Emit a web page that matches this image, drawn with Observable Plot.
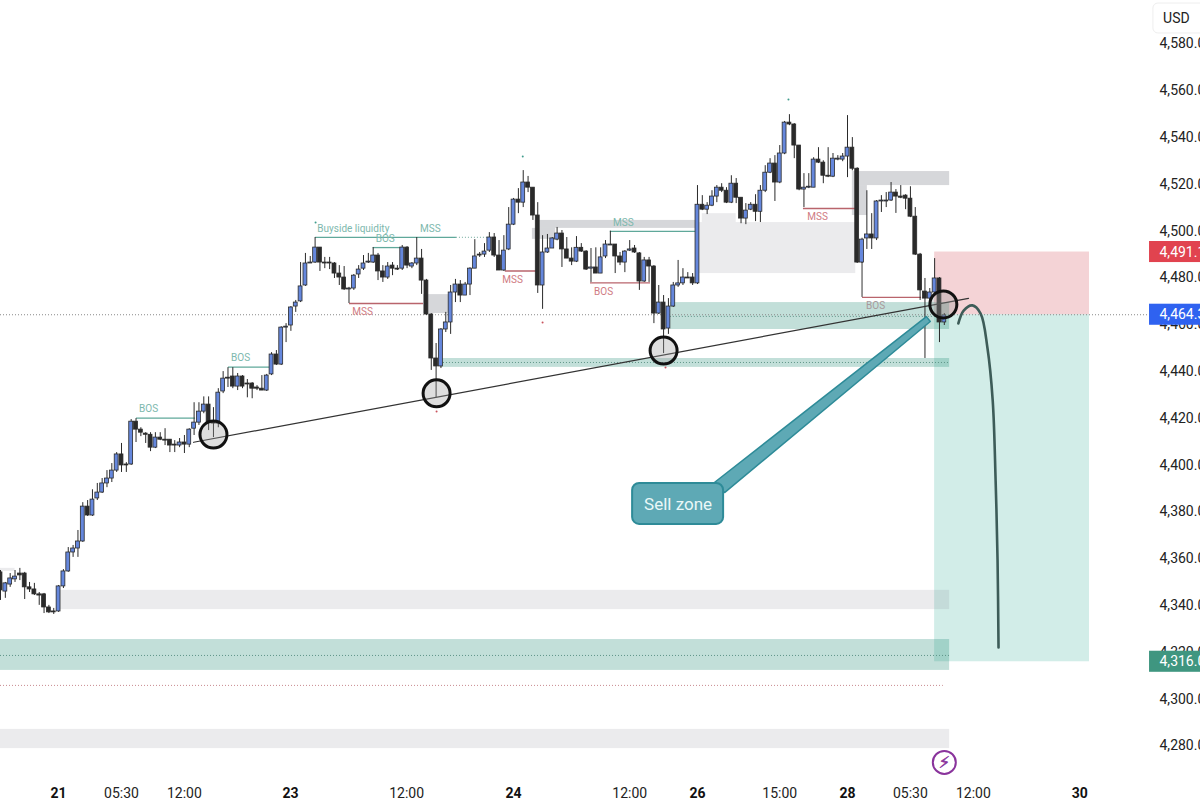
<!DOCTYPE html>
<html><head><meta charset="utf-8">
<script src="https://cdn.jsdelivr.net/npm/d3@7"></script>
<script src="https://cdn.jsdelivr.net/npm/@observablehq/plot@0.6"></script>
<style>html,body{margin:0;padding:0;background:#fff;overflow:hidden}svg{display:block}</style>
</head><body><div id="chart"></div>
<script>
const opens=[4354.2,4346.0,4349.0,4351.2,4353.7,4353.7,4347.8,4346.9,4344.8,4344.8,
4339.2,4337.5,4337.5,4348.2,4354.6,4362.7,4364.4,4367.4,4382.3,4378.5,
4385.8,4388.3,4392.2,4394.3,4397.7,4404.6,4400.3,4400.3,4418.6,4415.2,
4413.5,4413.0,4407.5,4411.8,4410.9,4410.9,4408.8,4408.4,4409.7,4408.8,
4415.6,4418.2,4422.9,4425.9,4418.6,4417.8,4431.5,4437.4,4437.9,4433.6,
4437.9,4434.9,4434.9,4433.2,4432.7,4431.9,4438.8,4447.3,4443.0,4458.8,
4459.7,4467.8,4470.0,4476.8,4486.2,4486.6,4493.0,4486.6,4486.6,4486.2,
4481.9,4480.2,4475.1,4475.5,4481.5,4484.0,4486.6,4486.6,4489.6,4482.8,
4480.2,4485.3,4484.0,4484.0,4493.0,4484.9,4486.2,4488.3,4478.9,4464.4,
4445.6,4442.2,4458.0,4461.0,4473.8,4477.2,4472.5,4477.2,4484.0,4490.0,
4490.0,4491.7,4497.3,4489.6,4483.2,4492.2,4502.8,4513.5,4512.2,4520.8,
4518.6,4506.7,4476.8,4490.9,4492.6,4496.4,4499.0,4492.2,4488.3,4487.0,
4492.9,4491.3,4484.0,4484.5,4481.9,4489.2,4493.9,4494.3,4489.2,4486.6,
4491.7,4492.6,4490.5,4478.5,4487.5,4484.9,4464.8,4469.5,4458.4,4467.8,
4476.8,4477.7,4480.2,4480.2,4477.7,4511.3,4509.2,4510.9,4514.8,4518.6,
4517.3,4512.2,4520.3,4514.3,4505.4,4509.2,4511.3,4508.3,4517.3,4525.0,
4528.9,4520.8,4533.2,4546.4,4545.6,4536.6,4517.8,4518.6,4518.6,4530.6,
4529.3,4523.7,4523.3,4530.6,4530.6,4531.9,4535.7,4526.7,4486.6,4496.9,
4498.6,4496.9,4512.7,4512.7,4513.1,4516.5,4514.8,4515.2,4513.9,4506.2,
4490.0,4474.2,4471.2,4473.8,4479.8,4461.0];
const closes=[4346.5,4349.5,4351.6,4352.4,4352.9,4347.8,4346.9,4344.8,4344.3,4339.2,
4337.1,4337.1,4348.2,4354.6,4362.7,4364.4,4367.4,4382.3,4378.5,4385.3,
4388.3,4392.2,4394.3,4397.7,4404.6,4399.9,4399.9,4418.6,4415.2,4413.9,
4413.0,4407.5,4411.8,4410.9,4410.5,4408.4,4408.4,4409.7,4408.8,4415.2,
4418.2,4422.9,4425.9,4418.2,4417.8,4431.0,4437.0,4437.0,4433.6,4437.9,
4433.6,4434.5,4432.7,4432.7,4431.9,4438.3,4447.3,4443.0,4458.8,4459.2,
4467.4,4469.5,4476.4,4486.2,4486.6,4493.0,4486.6,4486.2,4486.2,4481.9,
4480.2,4475.1,4475.5,4481.0,4483.6,4486.2,4487.0,4489.6,4482.8,4480.2,
4484.9,4484.0,4483.6,4493.0,4485.3,4486.2,4488.3,4478.9,4464.4,4445.6,
4442.2,4458.0,4461.0,4473.8,4477.2,4472.5,4477.2,4484.0,4489.2,4489.6,
4491.3,4497.3,4489.6,4483.2,4491.7,4502.8,4513.5,4512.2,4520.8,4518.6,
4506.7,4476.8,4490.9,4492.6,4496.9,4499.0,4492.2,4488.3,4487.0,4492.9,
4491.3,4483.6,4484.5,4481.9,4488.8,4494.3,4494.3,4489.2,4486.6,4491.3,
4492.2,4490.9,4478.5,4487.5,4484.9,4464.8,4469.5,4458.0,4467.8,4476.8,
4477.7,4480.2,4479.8,4477.7,4511.3,4509.2,4510.9,4514.8,4518.6,4517.3,
4512.2,4520.3,4514.3,4505.4,4508.8,4511.3,4508.3,4517.3,4525.0,4528.9,
4520.8,4533.2,4546.4,4545.6,4536.6,4517.8,4518.6,4519.0,4530.6,4529.3,
4523.7,4523.3,4531.0,4531.0,4531.9,4535.7,4526.7,4486.6,4496.4,4498.6,
4496.9,4512.7,4513.1,4513.1,4516.5,4514.8,4514.3,4513.9,4506.2,4490.0,
4474.7,4471.2,4473.8,4479.8,4461.0,4464.0];
const highs=[4355.0,4349.9,4353.7,4355.0,4355.9,4354.2,4349.9,4349.5,4345.6,4345.2,
4340.1,4338.8,4348.6,4355.4,4364.8,4365.7,4372.1,4384.0,4384.9,4389.5,
4392.2,4394.3,4397.7,4400.7,4405.4,4409.3,4401.1,4419.5,4419.9,4416.0,
4413.9,4413.9,4413.9,4413.9,4415.6,4410.9,4410.5,4411.4,4412.7,4415.6,
4426.7,4426.7,4429.2,4429.2,4424.6,4432.7,4440.0,4441.7,4441.7,4439.2,
4438.3,4436.6,4435.3,4434.0,4438.3,4438.8,4448.1,4449.0,4459.2,4460.5,
4467.8,4470.4,4486.6,4490.5,4489.2,4497.3,4493.0,4488.8,4488.8,4486.6,
4485.3,4484.9,4476.0,4481.5,4485.3,4489.6,4490.5,4493.0,4490.5,4485.3,
4486.6,4486.6,4485.3,4493.9,4493.4,4486.6,4497.3,4492.2,4479.4,4464.8,
4452.0,4458.4,4465.3,4476.8,4479.4,4478.9,4478.1,4484.4,4496.4,4490.9,
4494.7,4499.4,4499.0,4496.0,4498.1,4510.1,4514.0,4518.2,4525.9,4523.4,
4518.6,4512.2,4498.1,4498.6,4497.3,4501.6,4500.3,4497.3,4492.9,4497.7,
4494.7,4491.7,4492.6,4492.9,4492.9,4496.0,4500.0,4494.3,4490.9,4491.7,
4496.0,4493.9,4490.9,4488.8,4488.8,4485.3,4476.8,4472.5,4471.2,4478.1,
4487.5,4484.0,4482.3,4481.9,4519.5,4515.2,4512.2,4517.3,4519.5,4520.3,
4518.6,4523.7,4522.5,4514.3,4511.8,4512.2,4515.6,4519.5,4528.0,4531.0,
4532.3,4536.6,4546.9,4549.8,4546.0,4536.6,4524.6,4524.6,4531.4,4535.7,
4530.1,4535.7,4533.2,4532.3,4533.2,4549.4,4540.0,4527.1,4497.0,4517.3,
4507.5,4513.1,4515.2,4516.5,4520.8,4517.8,4519.5,4515.6,4519.0,4510.1,
4490.5,4479.8,4475.5,4488.3,4480.2,4464.8];
const lows=[4342.2,4343.1,4347.8,4349.9,4350.7,4342.6,4345.6,4344.3,4340.1,4336.6,
4336.6,4336.2,4337.1,4347.3,4354.2,4360.6,4360.6,4367.0,4378.1,4378.1,
4384.9,4387.9,4390.4,4392.6,4396.9,4396.9,4396.9,4399.9,4409.7,4412.2,
4409.3,4405.8,4407.1,4410.5,4408.4,4405.4,4405.4,4407.5,4405.0,4407.5,
4412.7,4417.0,4422.0,4414.8,4411.8,4416.0,4430.6,4433.2,4432.7,4431.9,
4432.7,4428.8,4428.4,4431.9,4431.9,4431.5,4438.3,4442.6,4442.6,4452.4,
4457.2,4465.3,4469.5,4476.4,4486.2,4486.2,4482.8,4484.0,4483.6,4479.8,
4476.8,4474.7,4469.1,4474.7,4479.8,4483.2,4486.2,4486.2,4478.9,4478.1,
4479.4,4481.0,4483.2,4483.2,4484.0,4484.0,4485.3,4473.0,4464.0,4440.5,
4428.9,4441.3,4456.7,4455.9,4469.5,4469.5,4472.5,4472.5,4484.0,4488.8,
4488.8,4490.9,4488.8,4483.2,4482.8,4491.7,4502.4,4507.5,4510.1,4516.5,
4504.6,4473.4,4466.6,4490.5,4492.6,4495.9,4484.5,4488.3,4485.3,4486.6,
4490.9,4483.2,4478.1,4481.9,4481.9,4488.3,4493.9,4481.9,4485.3,4482.3,
4491.3,4490.5,4474.7,4478.1,4478.1,4460.5,4464.4,4447.7,4455.9,4467.4,
4476.0,4476.8,4479.8,4476.8,4477.2,4508.8,4507.1,4510.5,4512.2,4516.5,
4511.8,4511.8,4511.8,4503.2,4502.8,4508.8,4504.1,4503.7,4516.5,4524.6,
4512.7,4520.3,4532.7,4545.1,4531.0,4517.3,4510.1,4518.2,4518.6,4528.9,
4520.3,4522.9,4522.9,4530.1,4529.7,4522.9,4525.8,4486.2,4486.2,4492.2,
4492.2,4496.0,4508.0,4510.1,4512.7,4507.6,4513.9,4509.2,4505.8,4489.6,
4470.4,4445.6,4470.4,4473.4,4452.4,4459.7];

const priceTicks=[4580,4560,4540,4520,4500,4480,4460,4440,4420,4400,4380,4360,4340,4320,4300,4280];
const priceTags=[{p:4491.1,t:"4,491.1"},{p:4464.3,t:"4,464.3"},{p:4316.0,t:"4,316.0"}];
const dayTicks=[{i:12,t:"21"},{i:59.9,t:"23"},{i:106,t:"24"},{i:144,t:"26"},{i:175,t:"28"},{i:223,t:"30"}];
const timeTicks=[{i:25,t:"05:30"},{i:38,t:"12:00"},{i:83.9,t:"12:00"},{i:130,t:"12:00"},{i:161,t:"15:00"},{i:188,t:"05:30"},{i:201,t:"12:00"}];

const lightZones=[[12.4,196.1,4338.3,4346.5],[0,196.1,4278.9,4287.1],[144.2,176.7,4481.9,4503.7],[145,152,4503.7,4507.5],[0,3,4354.6,4355.9]];
const darkZones=[[176,196.1,4519.5,4525.5],[176,179.1,4506.7,4519.5],[111,144,4501.2,4504.6],[109.9,114.7,4496.5,4501.2],[87.4,92.6,4464.8,4472.9]];
const tealZones=[[0,196.1,4312.3,4325.5],[138.4,196.1,4458,4469.5],[90.9,196.1,4441.8,4445.6]];
const tealLevels=[[28.1,40.3,4420.1],[47.1,55.6,4441.9],[65.1,94.2,4497.4],[77,83.3,4493],[126,143.8,4499.9]];
const redLevels=[[72.1,87.4,4469.1],[104.3,111,4483],[121.9,134.3,4477.9],[165.9,176.7,4509.7],[178.1,190.3,4471.7]];
const dottedLevels=[[90.9,196.1,4443.9],[0,196.1,4318.7],[138.4,196.1,4463.6]];
const tealNotes=[{i:30.6,p:4424.2,t:"BOS"},{i:49.6,p:4446,t:"BOS"},{i:72.9,p:4501.2,t:"Buyside liquidity"},{i:88.8,p:4501.2,t:"MSS"},{i:79.5,p:4496.9,t:"BOS"},{i:128.7,p:4503.7,t:"MSS"}];
const redNotes=[{i:74.8,p:4465.7,t:"MSS"},{i:105.8,p:4479.4,t:"MSS"},{i:124.6,p:4474.2,t:"BOS"},{i:168.8,p:4506.3,t:"MSS"}];
const greyNotes=[{i:180.8,p:4468.2,t:"BOS"}];
const tealDots=[[65.1,4503.7],[107.9,4531.9],[162.8,4556.3]];
const redDots=[[112,4461],[90.1,4422.9],[137.4,4441.8]];
const trend=[[39.9,4409.8],[200,4471.3]];
const swingCircles=[[44,4413.1],[90.1,4430.7],[137,4449.0],[194.8,4468.7]];
const calloutTail=[[147.5,4392.6],[191.3,4463.5],[192.1,4461.4],[149.6,4388.3]];
const projection=[[197.9,4460.6],[199,4466.1],[200.8,4468.3],[202.5,4464.8],[203.9,4450.3],[205,4427.6],[205.6,4393.4],[206,4359.3],[206.2,4322.1]];

const candles=opens.map((o,i)=>({i,o,c:closes[i],h:highs[i],l:lows[i]}));
const up=candles.filter(d=>d.c>=d.o), down=candles.filter(d=>d.c<d.o);
const zoneRect=(rows,opts)=>Plot.rect(rows,{x1:d=>d[0],x2:d=>d[1],y1:d=>d[2],y2:d=>d[3],...opts});
const levelRule=(rows,opts)=>Plot.ruleY(rows,{x1:d=>d[0],x2:d=>d[1],y:d=>d[2],...opts});
const note=(rows,fill)=>Plot.text(rows,{x:"i",y:"p",text:"t",fill,fontSize:10});
const body=(rows,fill)=>Plot.rect(rows,{x1:d=>d.i-.4,x2:d=>d.i+.4,y1:"o",y2:"c",fill,stroke:"#2a2a2a",strokeWidth:.8});
const RIGHT=247.93;

const chart=Plot.plot({
 width:1200,height:803,margin:0,style:{fontFamily:"Roboto",background:"#fff"},
 x:{axis:null,domain:[0,RIGHT],range:[0,1200]},
 y:{axis:null,domain:[4255.43,4598.59],range:[803,0]},
 marks:[
  zoneRect([[193,225,4464.3,4491.1]],{fill:"#c82332",fillOpacity:.2}),
  zoneRect([[193,225,4316,4464.3]],{fill:"#089981",fillOpacity:.18}),
  zoneRect(lightZones,{fill:"#787b86",fillOpacity:.15}),
  zoneRect(darkZones,{fill:"#787b86",fillOpacity:.3}),
  zoneRect(tealZones,{fill:"#1f8a74",fillOpacity:.27}),
  levelRule([[0,237.4,4464.3]],{stroke:"#8a8a8a",strokeDasharray:"1 2",strokeWidth:1}),
  levelRule(dottedLevels,{stroke:"#5f9488",strokeDasharray:"1 2",strokeWidth:1}),
  levelRule([[0,194.8,4305.9]],{stroke:"#c98a90",strokeDasharray:"1 2",strokeWidth:1}),
  levelRule([[94.2,101.2,4497.4]],{stroke:"#6fa99c",strokeDasharray:"1 2",strokeWidth:1}),
  levelRule(tealLevels,{stroke:"#5fa89a",strokeWidth:1.3}),
  levelRule(redLevels,{stroke:"#b9646c",strokeWidth:1.3}),
  Plot.ruleX([[178,4486.6,4471.7]],{x:d=>d[0],y1:d=>d[1],y2:d=>d[2],stroke:"#333",strokeWidth:1}),
  Plot.ruleX(candles,{x:"i",y1:"l",y2:"h",stroke:"#2a2a2a",strokeWidth:1}),
  body(down,"#2a2a2a"),
  body(up,"#6587dc"),
  note(tealNotes,"#7db8ad"),
  note(redNotes,"#cf7b83"),
  note(greyNotes,"#a8999b"),
  Plot.dot(tealDots,{x:d=>d[0],y:d=>d[1],r:1,fill:"#3f9c8c"}),
  Plot.dot(redDots,{x:d=>d[0],y:d=>d[1],r:1,fill:"#c9525c"}),
  Plot.line(trend,{x:d=>d[0],y:d=>d[1],stroke:"#333",strokeWidth:1.2}),
  Plot.dot(swingCircles,{x:d=>d[0],y:d=>d[1],r:13.5,stroke:"#111",strokeWidth:3,fill:"#9a9a9a",fillOpacity:.33}),
  Plot.line(calloutTail,{x:d=>d[0],y:d=>d[1],fill:"#5ea9b5",stroke:"#2e8b98",strokeWidth:1.5,curve:"linear-closed"}),
  zoneRect([[130.6,149.4,4374.7,4392.2]],{fill:"#5ea9b5",stroke:"#2e8b98",strokeWidth:2,rx:7}),
  Plot.text(["Sell zone"],{x:140,y:4383.4,text:d=>d,fill:"#eaf8f8",fontSize:17}),
  Plot.line(projection,{x:d=>d[0],y:d=>d[1],stroke:"#3d5c58",strokeWidth:2.6,curve:"catmull-rom"}),
  Plot.dot([[195,4273]],{x:d=>d[0],y:d=>d[1],r:11.5,stroke:"#8a349c",strokeWidth:2,fill:"#fff"}),
  Plot.text(["⚡"],{x:195,y:4273,text:d=>d,fill:"#8a349c",stroke:"#8a349c",strokeWidth:.6,fontSize:16,fontFamily:"DejaVu Sans"}),
  Plot.text(priceTicks,{x:239.46,y:d=>d,text:d=>d3.format(",.1f")(d),textAnchor:"start",fill:"#222",fontSize:14}),
  Plot.rect(priceTags,{x1:237.4,x2:RIGHT,y1:d=>d.p-4.5,y2:d=>d.p+4.5,fill:(d,k)=>["#e1434f","#2f62f0","#3f9680"][k]}),
  Plot.text(priceTags,{x:239.46,y:"p",text:"t",textAnchor:"start",fill:"#fff",fontSize:14}),
  zoneRect([[238.2,252,4584.5,4597.3]],{fill:"#fff",stroke:"#eeeeee",rx:5}),
  Plot.text(["USD"],{x:240.2,y:4591,text:d=>d,textAnchor:"start",fill:"#222",fontSize:14}),
  Plot.text(timeTicks,{x:"i",y:4259.7,text:"t",fill:"#222",fontSize:14}),
  Plot.text(dayTicks,{x:"i",y:4259.7,text:"t",fill:"#111",fontSize:14,fontWeight:"bold"})
 ]
});
document.getElementById("chart").append(chart);
</script></body></html>
